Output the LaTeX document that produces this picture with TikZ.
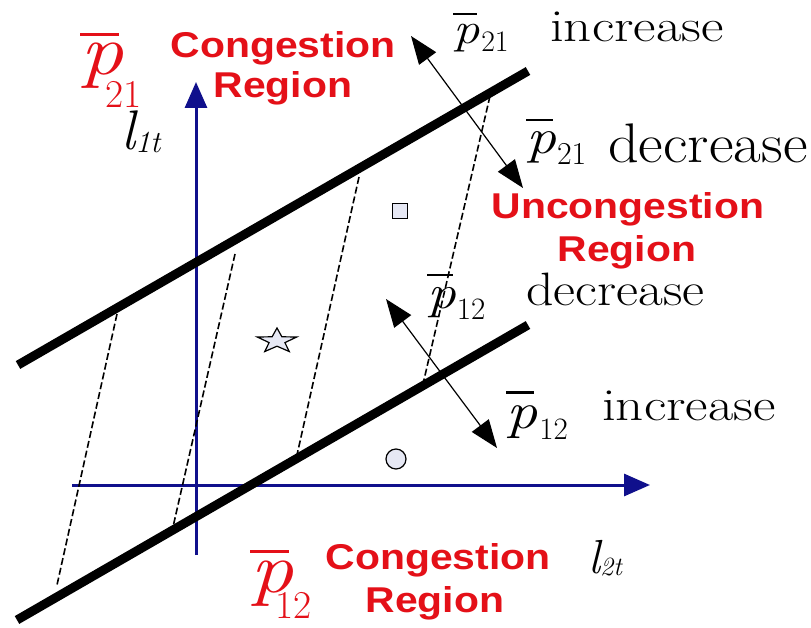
\documentclass[tikz,border=0pt]{standalone}
\usepackage{fontspec}
\newfontfamily\rsans{Liberation Sans}
\usetikzlibrary{arrows.meta}
\definecolor{cred}{RGB}{228,16,24}
\definecolor{navy}{RGB}{16,16,140}
\definecolor{shapefill}{RGB}{230,232,244}
% #1 bar gap, #2 subscript kern, #3 subscript lowering, #4 subscript scale, #5 digits
\newcommand\pb[5]{\hbox{\setbox0=\hbox{\scalebox{1.2}[1]{\itshape p}}\vbox{\hrule width 0.9\wd0 height 0.05em\kern#1em\box0}\kern#2em\raisebox{-#3em}{\scalebox{#4}{#5}}}}
% #1 subscript kern, #2 lowering, #3 scale, #4 text
\newcommand\lsub[4]{\hbox{\itshape l\kern#1em\raisebox{-#2em}{\scalebox{#3}{#4}}}}
\begin{document}
\begin{tikzpicture}[x=1bp,y=-1bp,
  thickline/.style={line width=9bp, black},
  axisline/.style={line width=3bp, navy, -{Triangle[length=26bp,width=22bp]}},
  dline/.style={line width=1.6bp, dash pattern=on 7bp off 3bp},
  dblarrow/.style={line width=1.2bp, {Triangle[length=28bp,width=21bp]}-{Triangle[length=28bp,width=21bp]}},
  redlbl/.style={text=cred, font=\rsans\bfseries\fontsize{36}{40}\selectfont, inner sep=0pt, anchor=base},
  redmath/.style={text=cred, font=\fontsize{72}{74}\selectfont, inner sep=0pt, anchor=base west},
  txt/.style={inner sep=0pt, anchor=base west},
  marker/.style={draw, fill=shapefill, line width=1.2bp, inner sep=0pt}
]
\path[fill=white] (0,0) rectangle (811,628);
% axes
\coordinate (vb) at (196,555);
\coordinate (vt) at (196,82);
\coordinate (hl) at (72,485);
\coordinate (hr) at (650,485);
\draw[axisline] (vb) -- (vt);
\draw[axisline] (hl) -- (hr);
% thick boundary lines
\coordinate (u1) at (18,365);
\coordinate (u2) at (528,71);
\coordinate (w1) at (17,620);
\coordinate (w2) at (528,325);
\draw[thickline] (u1) -- (u2);
\draw[thickline] (w1) -- (w2);
% dashed lines
\coordinate (d1a) at (117,314); \coordinate (d1b) at (57,585);
\coordinate (d2a) at (235,254); \coordinate (d2b) at (173,527);
\coordinate (d3a) at (359,177); \coordinate (d3b) at (297,455);
\coordinate (d4a) at (490,96);  \coordinate (d4b) at (423,384);
\draw[dline] (d1a) -- (d1b);
\draw[dline] (d2a) -- (d2b);
\draw[dline] (d3a) -- (d3b);
\draw[dline] (d4a) -- (d4b);
% double arrows
\coordinate (a1) at (411,36);  \coordinate (a2) at (523,188);
\coordinate (b1) at (386,299); \coordinate (b2) at (497,448);
\draw[dblarrow] (a1) -- (a2);
\draw[dblarrow] (b1) -- (b2);
% markers
\node[marker, rectangle, minimum size=15bp] (sq) at (400,211) {};
\coordinate (stc) at (277,341);
\draw[marker, shift={(stc)}, xscale=1.6]
  (270:13) -- (306:5.2) -- (342:13) -- (18:5.2) -- (54:13) -- (90:5.2)
  -- (126:13) -- (162:5.2) -- (198:13) -- (234:5.2) -- cycle;
\node[marker, circle, minimum size=20bp] (ci) at (396,459) {};
% red labels
\node[redmath] (rp21) at (80,75) {\pb{0.1}{-0.25}{0.45}{0.55}{21}};
\node[redlbl] (cr1a) at (283,58) {\scalebox{1.14}[1]{Congestion}};
\node[redlbl] (cr1b) at (283,98) {\scalebox{1.14}[1]{Region}};
\node[redlbl] (ucra) at (628,219) {\scalebox{1.14}[1]{Uncongestion}};
\node[redlbl] (ucrb) at (627,261) {\scalebox{1.14}[1]{Region}};
\node[redmath] (rp12) at (250,592) {\pb{0.1}{-0.25}{0.37}{0.55}{12}};
\node[redlbl] (cr2a) at (438,569) {\scalebox{1.14}[1]{Congestion}};
\node[redlbl] (cr2b) at (435,612) {\scalebox{1.14}[1]{Region}};
% axis labels
\node[txt, font=\fontsize{56}{58}\selectfont] (l1) at (121,150) {\lsub{0.0}{0.04}{0.55}{1\itshape t}};
\node[txt, font=\fontsize{48}{50}\selectfont] (l2) at (588,573) {\lsub{0.0}{0.06}{0.55}{2\itshape t}};
% black labels
\node[txt, font=\fontsize{44}{46}\selectfont] (p21a) at (453,44) {\pb{0.22}{0.04}{0.18}{0.68}{21}};
\node[txt, font=\fontsize{46}{48}\selectfont] (inc1) at (550,42) {\scalebox{1.2}[1]{increase}};
\node[txt, font=\fontsize{50}{52}\selectfont] (p21b) at (526,154) {\pb{0.22}{0.02}{0.21}{0.64}{21}};
\node[txt, font=\fontsize{56}{58}\selectfont] (dec1) at (608,163) {\scalebox{1.08}[1]{decrease}};
\node[txt, font=\fontsize{48}{50}\selectfont] (p12a) at (427,308) {\pb{0.22}{0.02}{0.24}{0.65}{12}};
\node[txt, font=\fontsize{47}{49}\selectfont] (dec2) at (526,305) {\scalebox{1.15}[1]{decrease}};
\node[txt, font=\fontsize{52}{54}\selectfont] (p12b) at (506,428) {\pb{0.22}{0.04}{0.22}{0.6}{12}};
\node[txt, font=\fontsize{46}{48}\selectfont] (inc2) at (602,420) {\scalebox{1.2}[1]{increase}};
\end{tikzpicture}
\end{document}
